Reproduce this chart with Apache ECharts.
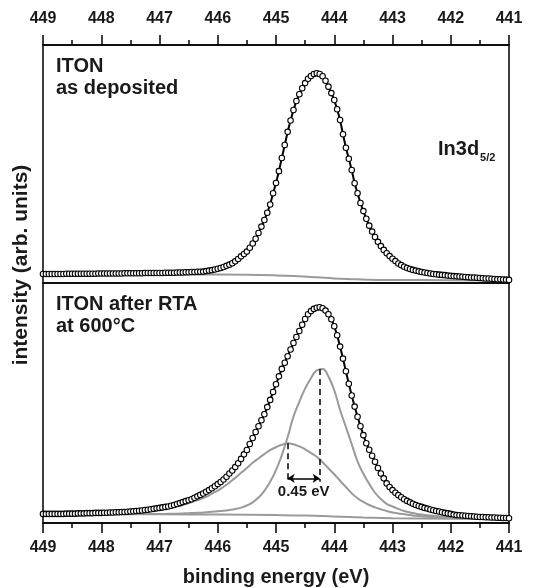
<!DOCTYPE html>
<html>
<head>
<meta charset="utf-8">
<script src="https://cdn.jsdelivr.net/npm/echarts@6/dist/echarts.min.js"></script>
<style>
  html, body { margin: 0; padding: 0; background: #fff; }
  #chart { width: 559px; height: 588px; }
</style>
</head>
<body>
<div id="chart"></div>
<script>
// binding energy ticks (eV), axis runs from 449 down to 441
var xTicks = [449, 448, 447, 446, 445, 444, 443, 442, 441]

// measured points every 0.05 eV from 449.00 to 441.00 (161 points)
var energies = []
for (var i = 0; i <= 160; i++) energies.push(+(449 - i * 0.05).toFixed(2))

// as deposited, In3d5/2 intensity (arb. units)
var depData = [
  3.8, 3.8, 3.8, 3.8, 3.8, 3.8, 3.8, 3.8, 3.9, 3.9, 3.9, 3.9, 3.9, 3.9, 3.9, 3.9, 3.9, 3.9, 3.9, 4.0,
  4.0, 4.0, 4.0, 4.0, 4.0, 4.0, 4.0, 4.0, 4.1, 4.1, 4.1, 4.1, 4.1, 4.1, 4.1, 4.2, 4.2, 4.2, 4.2, 4.2,
  4.2, 4.2, 4.3, 4.3, 4.3, 4.3, 4.4, 4.4, 4.4, 4.5, 4.5, 4.6, 4.6, 4.7, 4.7, 4.8, 5.0, 5.2, 5.4, 5.7,
  6.0, 6.3, 6.7, 7.2, 7.7, 8.3, 9.1, 10.1, 11.2, 12.2, 13.2, 14.8, 16.6, 18.6, 21.0, 23.7, 26.5, 29.5, 33.0, 37.7,
  42.0, 47.0, 52.5, 58.0, 63.5, 68.3, 72.7, 76.5, 79.3, 81.8, 84.0, 85.8, 87.0, 87.8, 88.1, 87.8, 86.9, 85.0, 82.5, 79.8,
  76.9, 73.0, 68.5, 62.5, 56.8, 52.2, 47.5, 41.9, 37.7, 33.6, 30.2, 27.0, 24.1, 21.6, 19.3, 17.3, 15.5, 13.9, 12.5, 11.3,
  10.2, 9.2, 8.2, 7.5, 6.8, 6.3, 5.9, 5.5, 5.2, 4.9, 4.6, 4.4, 4.2, 4.0, 3.8, 3.7, 3.5, 3.4, 3.3, 3.1,
  3.0, 2.9, 2.8, 2.7, 2.6, 2.5, 2.4, 2.3, 2.3, 2.2, 2.1, 2.0, 1.9, 1.9, 1.8, 1.7, 1.6, 1.6, 1.5, 1.4,
  1.3
]
var depBgE = [449, 447, 446, 445.5, 445, 444.6, 444.3, 444, 443.7, 443.4, 443, 442, 441]
var depBgV = [3.6, 3.6, 3.6, 3.5, 3.2, 2.8, 2.4, 1.9, 1.6, 1.4, 1.3, 1.2, 1.1]

// after RTA at 600 C
var rtaData = [
  3.8, 3.8, 3.8, 3.8, 3.8, 3.8, 3.8, 3.8, 3.9, 3.9, 3.9, 3.9, 4.0, 4.0, 4.0, 4.1, 4.1, 4.1, 4.2, 4.2,
  4.2, 4.3, 4.3, 4.4, 4.4, 4.5, 4.5, 4.6, 4.6, 4.7, 4.8, 4.9, 5.0, 5.1, 5.2, 5.4, 5.5, 5.7, 5.9, 6.1,
  6.3, 6.5, 6.7, 6.9, 7.2, 7.5, 7.9, 8.3, 8.7, 9.1, 9.5, 9.9, 10.5, 11.1, 11.7, 12.3, 13.0, 13.7, 14.5, 15.3,
  16.2, 17.1, 18.1, 19.3, 20.6, 21.9, 23.3, 24.9, 26.7, 28.6, 30.4, 32.9, 35.4, 37.9, 40.3, 42.8, 45.3, 48.3, 51.3, 54.6,
  57.8, 61.1, 64.2, 66.8, 69.5, 72.3, 75.0, 77.5, 80.0, 82.6, 85.0, 87.0, 88.3, 89.2, 89.7, 89.9, 89.5, 88.5, 87.0, 84.9,
  82.0, 78.2, 73.5, 68.5, 63.2, 58.0, 53.1, 48.5, 44.3, 40.3, 36.6, 33.2, 30.5, 28.0, 25.5, 22.9, 20.6, 18.6, 16.5, 15.0,
  13.7, 12.6, 11.6, 10.7, 9.9, 9.2, 8.6, 8.0, 7.5, 7.1, 6.7, 6.3, 6.0, 5.6, 5.3, 5.0, 4.8, 4.5, 4.2, 4.0,
  3.8, 3.5, 3.3, 3.2, 3.1, 3.0, 2.9, 2.8, 2.7, 2.6, 2.5, 2.5, 2.4, 2.4, 2.3, 2.3, 2.2, 2.2, 2.1, 2.1,
  2.0
]

// fitted components, every 0.1 eV from 449.0 to 441.0 (81 points)
var compEnergies = []
for (var j = 0; j <= 80; j++) compEnergies.push(+(449 - j * 0.1).toFixed(1))

var peakMain = [
  3.7, 3.7, 3.7, 3.7, 3.7, 3.7, 3.7, 3.7, 3.7, 3.7,
  3.7, 3.7, 3.7, 3.7, 3.7, 3.7, 3.7, 3.7, 3.8, 3.8,
  3.8, 3.8, 3.9, 3.9, 4.0, 4.1, 4.2, 4.3, 4.5, 4.7,
  4.9, 5.1, 5.4, 5.8, 6.4, 7.3, 8.6, 10.6, 13.4, 17.2,
  22.0, 28.3, 35.8, 44.3, 50.5, 56.0, 60.3, 63.6, 64.2, 61.0,
  55.3, 47.1, 40.0, 32.8, 25.7, 20.5, 16.3, 12.6, 10.0, 8.0,
  6.9, 5.9, 5.0, 4.4, 3.9, 3.5, 3.2, 3.0, 2.8, 2.6,
  2.5, 2.4, 2.3, 2.2, 2.1, 2.1, 2.0, 2.0, 1.9, 1.9,
  1.9
]
var peakShifted = [
  3.7, 3.7, 3.7, 3.7, 3.7, 3.7, 3.7, 3.7, 3.7, 3.7,
  3.7, 3.7, 3.8, 3.8, 3.9, 4.1, 4.3, 4.6, 4.9, 5.2,
  5.6, 6.0, 6.5, 7.0, 7.5, 8.3, 9.1, 9.9, 10.9, 12.2,
  13.5, 15.1, 16.9, 18.8, 20.9, 22.9, 25.1, 26.9, 28.7, 30.4,
  31.6, 32.6, 33.2, 32.8, 31.9, 30.7, 29.2, 27.6, 25.3, 22.8,
  20.3, 17.6, 15.0, 12.4, 10.3, 8.8, 7.5, 6.5, 5.7, 5.0,
  4.4, 4.0, 3.6, 3.3, 3.0, 2.8, 2.6, 2.5, 2.4, 2.3,
  2.2, 2.2, 2.1, 2.1, 2.0, 2.0, 1.9, 1.9, 1.9, 1.8,
  1.8
]
var rtaBgE = [449, 447, 446, 445, 444.5, 444, 443.5, 443, 442, 441]
var rtaBgV = [3.6, 3.6, 3.5, 3.3, 3.1, 2.7, 2.3, 2.0, 1.8, 1.7]

// peak positions for the shift marker
var shiftE = [444.8, 444.25]
var shiftTop = [33.2, 64.2]

function pairs (xs, ys) {
  return xs.map(function (x, k) { return [x, ys[k]] })
}

var font = '"Liberation Sans", Arial, sans-serif'
var ink = '#1a1a1a'
var gray = '#9a9a9a'

function xAxisFor (gridIndex, position, margin) {
  return {
    gridIndex: gridIndex,
    type: 'value',
    position: position,
    min: xTicks[xTicks.length - 1],
    max: xTicks[0],
    interval: 1,
    inverse: true,
    axisLine: { show: true, onZero: false, lineStyle: { color: '#000', width: 1.5 } },
    axisTick: { show: true, length: 10, lineStyle: { color: '#000', width: 1.5 } },
    minorTick: { show: true, splitNumber: 2, length: 5, lineStyle: { color: '#000', width: 1.5 } },
    minorSplitLine: { show: false },
    splitLine: { show: false },
    axisLabel: {
      show: true,
      margin: margin,
      fontSize: 16,
      fontWeight: 'bold',
      fontFamily: font,
      color: ink,
      showMinLabel: true,
      showMaxLabel: true
    }
  }
}

function yAxisFor (gridIndex) {
  return { gridIndex: gridIndex, type: 'value', min: 0, max: 100, show: false }
}

function dataSeries (idx, values) {
  return {
    type: 'line',
    xAxisIndex: idx,
    yAxisIndex: idx,
    data: pairs(energies, values),
    symbol: 'circle',
    symbolSize: 5.5,
    showAllSymbol: true,
    itemStyle: { color: '#fff', borderColor: '#000', borderWidth: 1.1 },
    lineStyle: { color: '#000', width: 2 },
    z: 5
  }
}

function grayLine (idx, data) {
  return {
    type: 'line',
    xAxisIndex: idx,
    yAxisIndex: idx,
    data: data,
    symbol: 'none',
    smooth: true,
    lineStyle: { color: gray, width: 2 },
    z: 3
  }
}

var chart = echarts.init(document.getElementById('chart'))

var shiftMarks = grayLine(1, pairs(compEnergies, peakMain))
shiftMarks.markLine = {
  silent: true,
  animation: false,
  symbol: 'none',
  label: { show: false },
  lineStyle: { color: '#000', width: 1.5, type: [6, 4] },
  data: [
    [{ coord: [shiftE[0], shiftTop[0]] }, { coord: [shiftE[0], 17.2] }],
    [{ coord: [shiftE[1], shiftTop[1]] }, { coord: [shiftE[1], 17.2] }],
    [
      {
        coord: [shiftE[0], 18.6],
        symbol: 'arrow',
        lineStyle: { type: 'solid', width: 1.5 },
        label: {
          show: true,
          position: 'insideMiddleBottom',
          distance: 6,
          formatter: '0.45 eV',
          fontSize: 15,
          fontWeight: 'bold',
          fontFamily: font,
          color: ink
        }
      },
      { coord: [shiftE[1], 18.6], symbol: 'arrow' }
    ]
  ],
  symbolSize: 7
}

chart.setOption({
  animation: false,
  grid: [
    { left: 43, width: 466, top: 45, height: 238, show: true, borderColor: '#000', borderWidth: 1.5 },
    { left: 43, width: 466, top: 283, height: 240, show: true, borderColor: '#000', borderWidth: 1.5 }
  ],
  xAxis: [xAxisFor(0, 'top', 18), xAxisFor(1, 'bottom', 17)],
  yAxis: [yAxisFor(0), yAxisFor(1)],
  series: [
    grayLine(0, pairs(depBgE, depBgV)),
    dataSeries(0, depData),
    grayLine(1, pairs(rtaBgE, rtaBgV)),
    grayLine(1, pairs(compEnergies, peakShifted)),
    shiftMarks,
    dataSeries(1, rtaData)
  ],
  graphic: [
    {
      type: 'text', left: 56, top: 55,
      style: { text: 'ITON\nas deposited', font: 'bold 20px ' + font, fill: ink, lineHeight: 22 }
    },
    {
      type: 'text', left: 56, top: 293,
      style: { text: 'ITON after RTA\nat 600°C', font: 'bold 20px ' + font, fill: ink, lineHeight: 22 }
    },
    {
      type: 'text', left: 438, top: 139,
      style: {
        text: '{a|In3d}{b|5/2}',
        rich: {
          a: { font: 'bold 20px ' + font, fill: ink, verticalAlign: 'bottom' },
          b: { font: 'bold 11px ' + font, fill: ink, verticalAlign: 'bottom', padding: [0, 0, -4, 1] }
        }
      }
    },
    {
      type: 'text', x: 21, y: 265, rotation: Math.PI / 2,
      style: { text: 'intensity (arb. units)', font: 'bold 21px ' + font, fill: ink, align: 'center', verticalAlign: 'middle' }
    },
    {
      type: 'text', x: 276, y: 577,
      style: { text: 'binding energy (eV)', font: 'bold 20px ' + font, fill: ink, align: 'center', verticalAlign: 'middle' }
    }
  ]
})
</script>
</body>
</html>
